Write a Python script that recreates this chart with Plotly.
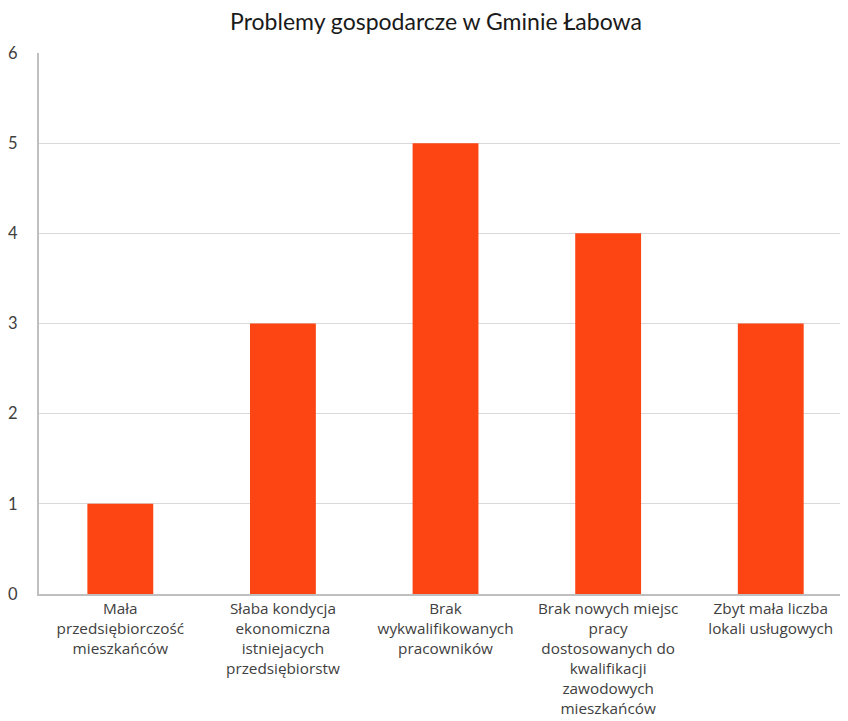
import plotly.graph_objects as go

categories = [
    "Mała<br>przedsiębiorczość<br>mieszkańców",
    "Słaba kondycja<br>ekonomiczna<br>istniejacych<br>przedsiębiorstw",
    "Brak<br>wykwalifikowanych<br>pracowników",
    "Brak nowych miejsc<br>pracy<br>dostosowanych do<br>kwalifikacji<br>zawodowych<br>mieszkańców",
    "Zbyt mała liczba<br>lokali usługowych",
]
values = [1, 3, 5, 4, 3]
y_ticks = [0, 1, 2, 3, 4, 5, 6]

FONT = "Lato, Carlito, Open Sans, sans-serif"
TICKFONT = "Open Sans, Lato, sans-serif"

fig = go.Figure(go.Bar(x=categories, y=values, marker=dict(color="#FC4512", line=dict(width=0)), width=0.405))

fig.update_layout(
    width=848, height=721,
    margin=dict(l=31, r=8, t=45, b=135),
    paper_bgcolor="white", plot_bgcolor="white",
    title=dict(text="Problemy gospodarcze w Gminie Łabowa", x=(436 - 8) / 848, xanchor="center",
               y=1 - 14 / 721, yanchor="middle",
               font=dict(family=FONT, size=23, color="#1a1a1a")),
    font=dict(family=FONT, size=16, color="#404040"),
    showlegend=False,
)
fig.update_xaxes(range=[-0.5, 4.475], showline=True, linecolor="#BFBFBF", linewidth=2,
                 ticks="", tickfont=dict(family=TICKFONT, size=15.3, color="#404040"), showgrid=False,
                 tickangle=0, automargin=False)
fig.update_yaxes(range=[0, 6], tickvals=y_ticks, showline=True, linecolor="#BFBFBF", linewidth=2,
                 gridcolor="#D9D9D9", gridwidth=1, zeroline=False, ticks="", ticklabelstandoff=16,
                 tickfont=dict(family=FONT, size=16.5, color="#404040"), automargin=False)

fig.write_html("out.html")
